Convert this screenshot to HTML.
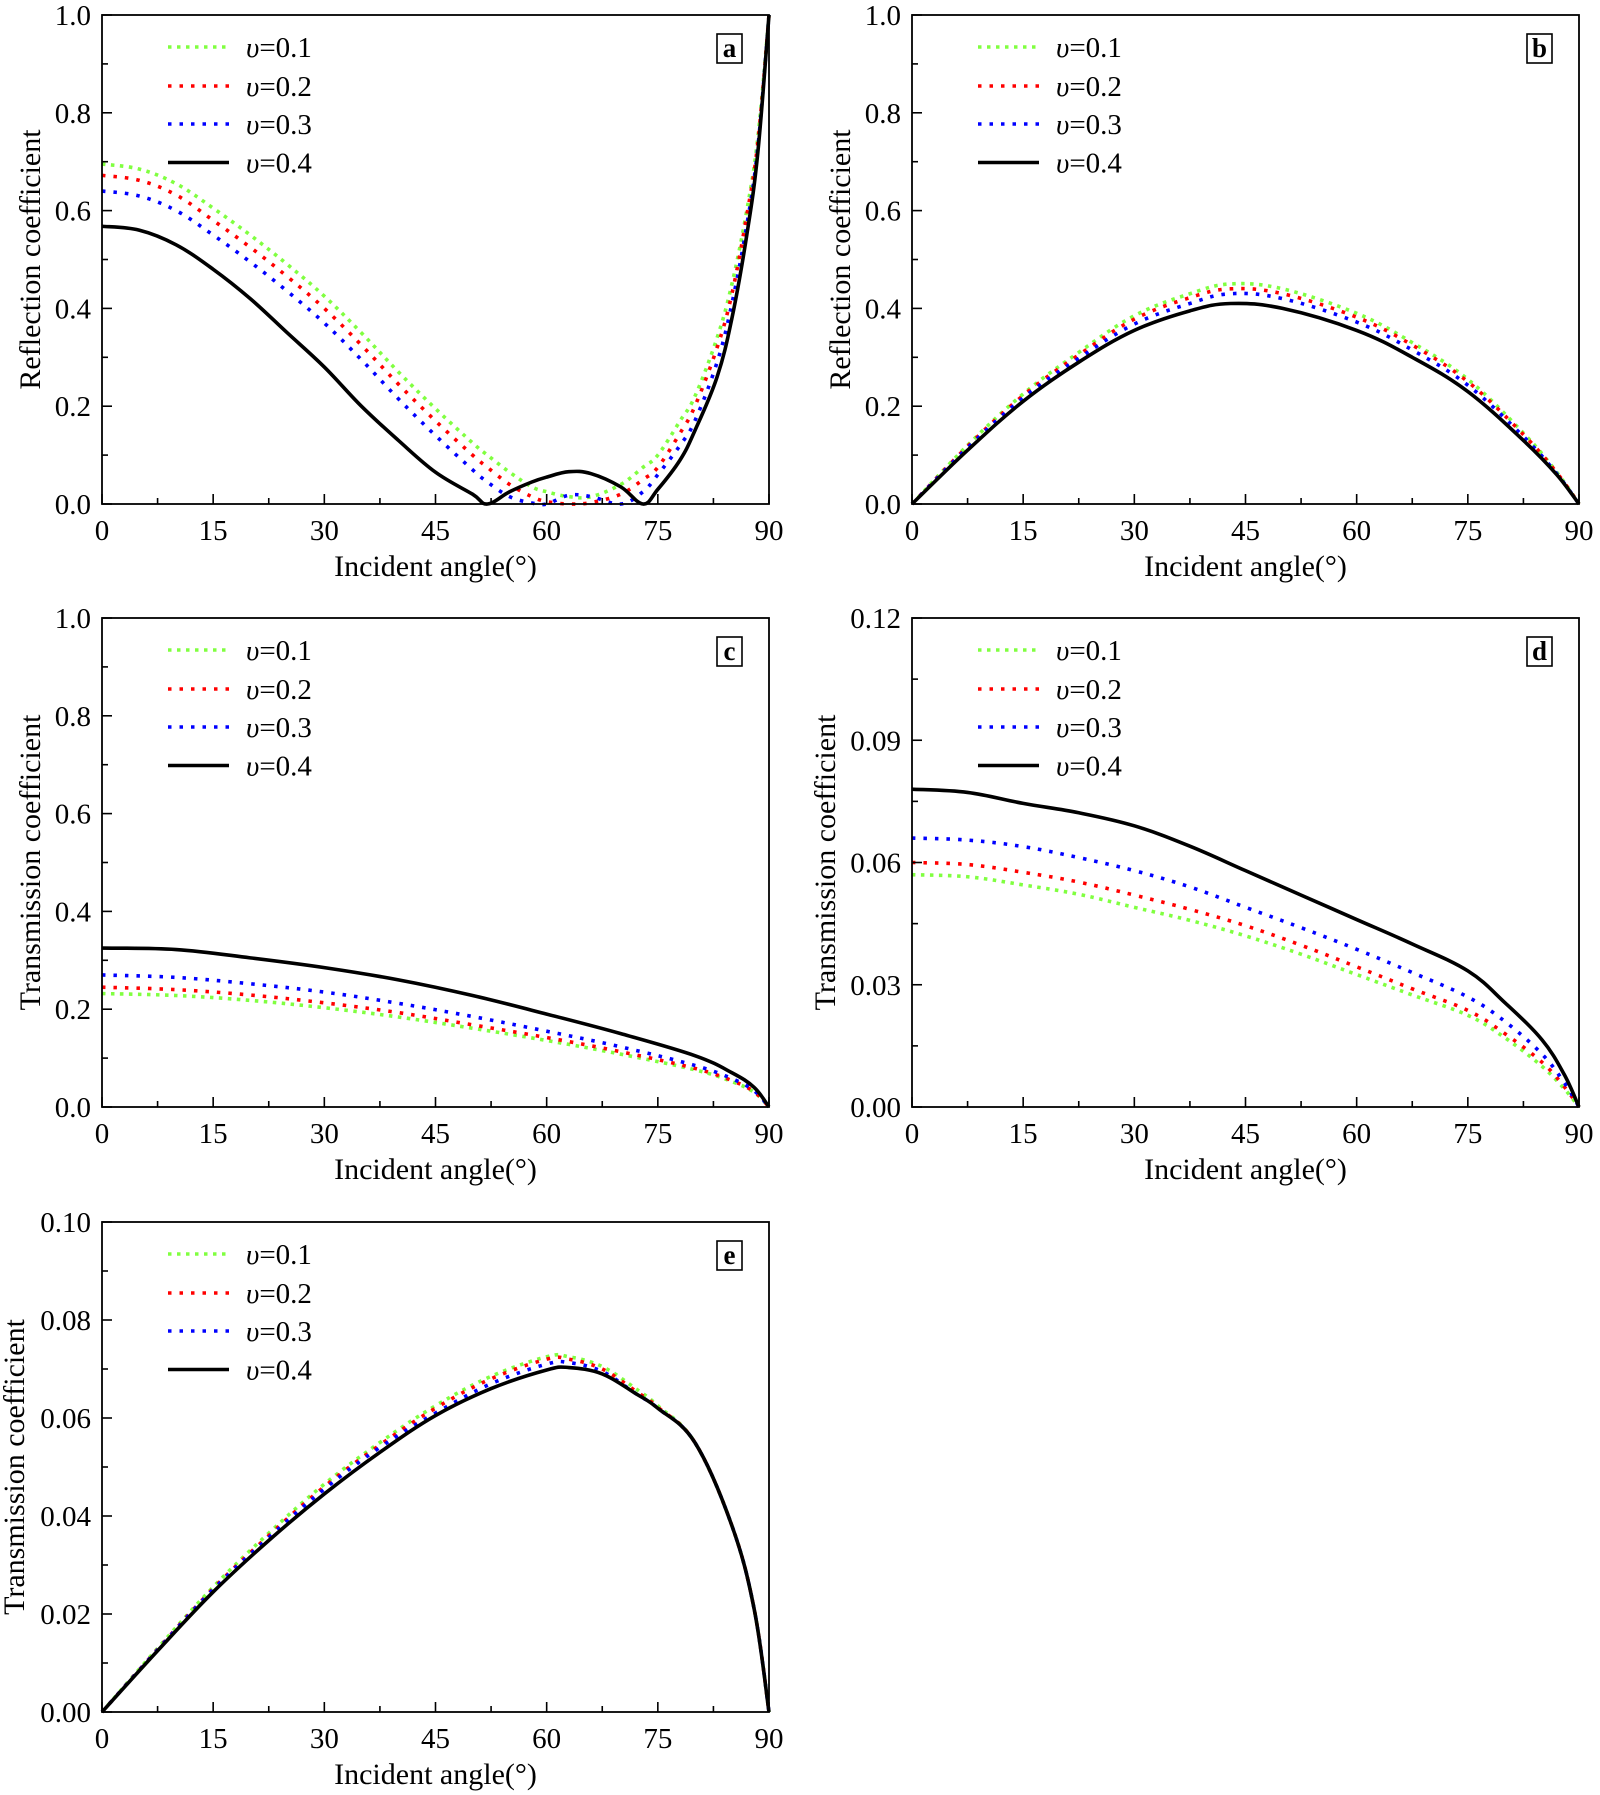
<!DOCTYPE html>
<html><head><meta charset="utf-8"><style>
html,body{margin:0;padding:0;background:#fff;}
svg{display:block;}
svg text{font-family:"Liberation Serif","DejaVu Serif",serif;}
</style></head><body>
<svg id="fig" width="1600" height="1795" viewBox="0 0 1600 1795" xmlns="http://www.w3.org/2000/svg" font-family="Liberation Serif, serif"></svg>
<script>
// ---- data ----
const anglesA=[0,5,10,15,20,25,30,35,40,45,50,52,55,58,60,63,66,70,73,75,78,80,83,85,87,88.5,90];
const aV1=[0.695,0.685,0.655,0.605,0.55,0.49,0.425,0.35,0.27,0.195,0.125,0.10,0.065,0.035,0.025,0.015,0.015,0.04,0.075,0.10,0.17,0.22,0.34,0.45,0.6,0.75,1.0];
const aV2=[0.672,0.662,0.632,0.58,0.525,0.465,0.40,0.325,0.245,0.17,0.1,0.075,0.04,0.015,0.005,0.0,0.003,0.02,0.05,0.075,0.145,0.2,0.32,0.43,0.59,0.74,1.0];
const aV3=[0.64,0.63,0.6,0.55,0.495,0.435,0.37,0.295,0.215,0.14,0.07,0.045,0.015,0.002,0.0,0.018,0.015,0.0,0.025,0.06,0.12,0.17,0.29,0.41,0.57,0.73,1.0];
const aV4=[0.568,0.56,0.53,0.48,0.42,0.35,0.28,0.20,0.13,0.065,0.02,0.0,0.025,0.045,0.055,0.066,0.062,0.035,0.0,0.03,0.09,0.15,0.26,0.38,0.55,0.72,1.0];

const anglesB=[0,7.5,15,22.5,30,37.5,43,50,60,67.5,75,82.5,87,90];
const bV1=[0,0.12,0.225,0.31,0.385,0.43,0.45,0.44,0.39,0.33,0.255,0.145,0.065,0];
const bV2=[0,0.118,0.222,0.305,0.378,0.422,0.44,0.43,0.382,0.325,0.25,0.142,0.064,0];
const bV3=[0,0.115,0.217,0.298,0.368,0.41,0.43,0.42,0.372,0.315,0.243,0.138,0.062,0];
const bV4=[0,0.11,0.21,0.29,0.355,0.395,0.41,0.40,0.355,0.30,0.23,0.13,0.06,0];

const anglesC=[0,10,20,30,40,50,60,70,80,85,88,90];
const cV1=[0.232,0.228,0.218,0.203,0.184,0.161,0.136,0.108,0.076,0.052,0.03,0];
const cV2=[0.245,0.24,0.229,0.213,0.193,0.168,0.142,0.113,0.079,0.054,0.031,0];
const cV3=[0.27,0.265,0.252,0.235,0.212,0.185,0.155,0.123,0.085,0.058,0.033,0];
const cV4=[0.325,0.322,0.305,0.285,0.26,0.228,0.19,0.15,0.105,0.07,0.04,0];

const anglesD=[0,7.5,15,22.5,30,37.5,45,52.5,60,67.5,75,80,85,88,90];
const dV1=[.057,.0565,.0545,.0522,.049,.0458,.042,.0375,.0325,.0275,.0225,.017,.010,.0045,0];
const dV2=[.060,.0595,.0576,.0552,.052,.0485,.0445,.0397,.0344,.029,.0237,.018,.011,.005,0];
const dV3=[.066,.0655,.0639,.0612,.058,.054,.049,.044,.0387,.033,.027,.021,.013,.006,0];
const dV4=[.078,.0772,.0745,.0722,.069,.064,.058,.052,.046,.040,.0334,.0256,.0165,.008,0];

const anglesE=[0,7.5,15,22.5,30,37.5,45,52.5,60,63,67.5,72,75,80,85,88,90];
const eV1=[0,.013,.0255,.0365,.0465,.055,.0625,.0685,.0725,.0725,.0705,.066,.0625,.055,.038,.021,0];
const eV2=[0,.0128,.0252,.0360,.046,.0545,.062,.068,.072,.072,.070,.0655,.0622,.055,.038,.021,0];
const eV3=[0,.0127,.025,.0356,.0455,.054,.061,.067,.071,.0713,.0695,.065,.062,.055,.038,.021,0];
const eV4=[0,.0125,.0245,.035,.0445,.053,.0605,.066,.0698,.0703,.069,.065,.062,.055,.038,.021,0];

const xTicks=["0","15","30","45","60","75","90"];
const legendLabels=["0.1","0.2","0.3","0.4"];
const yTicksA=["0.0","0.2","0.4","0.6","0.8","1.0"];
const yTicksC=["0.0","0.2","0.4","0.6","0.8","1.0"];
const yTicksD=["0.00","0.03","0.06","0.09","0.12"];
const yTicksE=["0.00","0.02","0.04","0.06","0.08","0.10"];

const NS="http://www.w3.org/2000/svg";
const svg=document.getElementById('fig');
function mk(tag,parent,attrs){const e=document.createElementNS(NS,tag);for(const k in attrs)e.setAttribute(k,attrs[k]);parent.appendChild(e);return e;}

const styles=[
 {c:"#80ff40",d:"3.5 5.5",w:3.6},
 {c:"#ff0000",d:"3.5 8",w:3.6},
 {c:"#0000ff",d:"3.5 8",w:3.6},
 {c:"#000000",d:"",w:3.6}];

function smoothPath(pts){
 let d="M"+pts[0][0].toFixed(2)+","+pts[0][1].toFixed(2);
 for(let i=0;i<pts.length-1;i++){
  const p0=pts[Math.max(i-1,0)],p1=pts[i],p2=pts[i+1],p3=pts[Math.min(i+2,pts.length-1)];
  const t=0.18;
  const c1=[p1[0]+(p2[0]-p0[0])*t,p1[1]+(p2[1]-p0[1])*t];
  const c2=[p2[0]-(p3[0]-p1[0])*t,p2[1]-(p3[1]-p1[1])*t];
  d+="C"+c1[0].toFixed(2)+","+c1[1].toFixed(2)+" "+c2[0].toFixed(2)+","+c2[1].toFixed(2)+" "+p2[0].toFixed(2)+","+p2[1].toFixed(2);
 }
 return d;
}

function panel(cfg){
 const g=mk('g',svg,{});
 
 
 const L=cfg.x0,R=cfg.x1,T=cfg.y0,B=cfg.y1;
 const xs=v=>L+(v/90)*(R-L);
 const ys=v=>B-(v/cfg.ymax)*(B-T);
 cfg.series.forEach((vals,i)=>{
  const pts=vals.map((v,j)=>[xs(cfg.angles[j]),ys(v)]);
  const p=mk('path',g,{d:smoothPath(pts),fill:"none",stroke:styles[i].c,"stroke-width":styles[i].w,"stroke-linejoin":"round","stroke-linecap":"butt"});
  if(styles[i].d){p.setAttribute('stroke-dasharray',styles[i].d);}
  
  
 });
 const fr=mk('rect',g,{x:L,y:T,width:R-L,height:B-T,fill:"none",stroke:"#000","stroke-width":1.8});
 
 
 for(let k=0;k<=12;k++){
  const a=k*7.5,x=xs(a),len=k%2?6:10;
  mk('line',g,{x1:x,x2:x,y1:B,y2:B-len,stroke:"#000","stroke-width":1.6});
 }
 xTicks.forEach((t,k)=>{
  const tx=mk('text',g,{x:xs(k*15),y:B+36,"text-anchor":"middle","font-size":29});
  tx.textContent=t;
  
  
 });
 const n=cfg.yt.length-1;
 for(let k=0;k<=2*n;k++){
  const y=B-(k/(2*n))*(B-T),len=k%2?6:10;
  mk('line',g,{x1:L,x2:L+len,y1:y,y2:y,stroke:"#000","stroke-width":1.6});
 }
 cfg.yt.forEach((t,k)=>{
  const tx=mk('text',g,{x:L-11,y:B-(k/n)*(B-T)+10,"text-anchor":"end","font-size":29});
  tx.textContent=t;
  
  
 });
 const xt=mk('text',g,{x:(L+R)/2,y:B+72,"text-anchor":"middle","font-size":30});
 xt.textContent="Incident angle(°)";
 
 
 const cy=(T+B)/2;
 const yt=mk('text',g,{x:cfg.ytx,y:cy,"text-anchor":"middle","font-size":30,transform:`rotate(-90 ${cfg.ytx} ${cy})`});
 yt.textContent=cfg.ytitle;
 
 
 const rows=[32,71,109,147.5];
 legendLabels.forEach((lab,i)=>{
  const lg=mk('g',g,{});
  
  
  const ln=mk('line',lg,{x1:L+66,x2:L+127,y1:T+rows[i],y2:T+rows[i],stroke:styles[i].c,"stroke-width":styles[i].w});
  if(styles[i].d)ln.setAttribute('stroke-dasharray',styles[i].d);
  const tx=mk('text',lg,{x:L+144,y:T+rows[i]+10,"font-size":29});
  const it=mk('tspan',tx,{"font-style":"italic"});it.textContent="υ";
  const rest=mk('tspan',tx,{});rest.textContent="="+lab;
 });
 const bx=mk('rect',g,{x:R-52,y:T+19,width:25,height:29,fill:"#fff",stroke:"#000","stroke-width":1.6});
 
 
 const lt=mk('text',g,{x:R-39.5,y:T+42,"text-anchor":"middle","font-size":27,"font-weight":"bold"});
 lt.textContent=cfg.letter;
 
 
}

panel({letter:"a",x0:102,x1:769,y0:15,y1:504,ymax:1.0,yt:yTicksA,angles:anglesA,series:[aV1,aV2,aV3,aV4],ytitle:"Reflection coefficient",ytx:40});
panel({letter:"b",x0:912,x1:1579,y0:15,y1:504,ymax:1.0,yt:yTicksA,angles:anglesB,series:[bV1,bV2,bV3,bV4],ytitle:"Reflection coefficient",ytx:850});
panel({letter:"c",x0:102,x1:769,y0:618,y1:1107,ymax:1.0,yt:yTicksC,angles:anglesC,series:[cV1,cV2,cV3,cV4],ytitle:"Transmission coefficient",ytx:40});
panel({letter:"d",x0:912,x1:1579,y0:618,y1:1107,ymax:0.12,yt:yTicksD,angles:anglesD,series:[dV1,dV2,dV3,dV4],ytitle:"Transmission coefficient",ytx:835});
panel({letter:"e",x0:102,x1:769,y0:1222,y1:1712,ymax:0.10,yt:yTicksE,angles:anglesE,series:[eV1,eV2,eV3,eV4],ytitle:"Transmission coefficient",ytx:24});
</script>
</body></html>
